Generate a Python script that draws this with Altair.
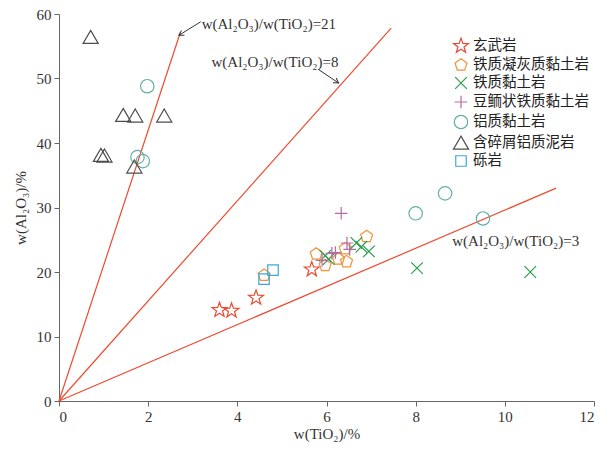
import math
import altair as alt
import pandas as pd

# ---------------- data ----------------
groups = ["玄武岩", "铁质凝灰质黏土岩", "铁质黏土岩", "豆鲕状铁质黏土岩",
          "铝质黏土岩", "含碎屑铝质泥岩", "砾岩"]
colors = ["#ea4a33", "#f2923c", "#2a9f4c", "#b56ba6", "#62aea6", "#4d4d4d", "#3ea7dc"]

basalt_x = [3.6, 3.87, 4.42, 5.67]
basalt_y = [14.1, 14.0, 16.0, 20.4]

tuff_x = [4.6, 5.77, 5.97, 6.27, 6.42, 6.9, 6.45]
tuff_y = [19.5, 22.8, 21.0, 22.0, 23.6, 25.5, 21.6]

fe_x = [5.97, 6.05, 6.67, 6.78, 6.95, 8.03, 10.57]
fe_y = [22.5, 22.0, 24.5, 23.9, 23.2, 20.6, 20.0]

ool_x = [6.33, 6.12, 6.2, 6.46, 6.52, 5.9]
ool_y = [29.1, 22.9, 23.0, 24.5, 23.5, 21.8]

al_x = [1.98, 1.76, 1.88, 8.0, 8.66, 9.51]
al_y = [48.8, 37.8, 37.2, 29.1, 32.2, 28.3]

clast_x = [0.71, 1.44, 1.71, 2.36, 0.94, 1.02, 1.69]
clast_y = [56.4, 44.3, 44.2, 44.2, 38.1, 38.0, 36.3]

cong_x = [4.6, 4.8]
cong_y = [18.9, 20.3]

# ratio lines (end points)
line_names = ["21", "8", "3"]
line_end_x = [2.72, 7.45, 11.15]
line_end_y = [57.1, 57.8, 33.0]

# annotations
ann_text = ["w(Al₂O₃)/w(TiO₂)=21", "w(Al₂O₃)/w(TiO₂)=8", "w(Al₂O₃)/w(TiO₂)=3"]
ann_x = [3.2, 3.42, 8.82]
ann_y = [58.5, 52.6, 24.8]

# arrows: start -> tip
arrow_x0 = [3.18, 5.82]
arrow_y0 = [58.8, 51.4]
arrow_x1 = [2.69, 6.27]
arrow_y1 = [56.7, 49.3]

# ---------------- build tables ----------------
all_x = [basalt_x, tuff_x, fe_x, ool_x, al_x, clast_x, cong_x]
all_y = [basalt_y, tuff_y, fe_y, ool_y, al_y, clast_y, cong_y]
rows = []
for g, xs, ys in zip(groups, all_x, all_y):
    for a, b in zip(xs, ys):
        rows.append({"g": g, "x": a, "y": b})
pts = pd.DataFrame(rows)

lrows = []
for n, ex, ey in zip(line_names, line_end_x, line_end_y):
    lrows.append({"n": n, "x": 0.0, "y": 0.0})
    lrows.append({"n": n, "x": ex, "y": ey})
lines_df = pd.DataFrame(lrows)

ann_df = pd.DataFrame({"t": ann_text, "x": ann_x, "y": ann_y})

arow = []
for i, (a0, b0, a1, b1) in enumerate(zip(arrow_x0, arrow_y0, arrow_x1, arrow_y1)):
    arow.append({"i": i, "x": a0, "y": b0})
    arow.append({"i": i, "x": a1, "y": b1})
arrow_df = pd.DataFrame(arow)

W, H = 535, 387
XS, YS = W / 12, H / 60
angles = []
for a0, b0, a1, b1 in zip(arrow_x0, arrow_y0, arrow_x1, arrow_y1):
    dx = (a1 - a0) * XS
    dy = -(b1 - b0) * YS
    angles.append((math.degrees(math.atan2(dy, dx)) + 360) % 360)
head_df = pd.DataFrame({"x": arrow_x1, "y": arrow_y1, "a": angles})

# ---------------- marker shapes ----------------
def poly(n, r, inner=None):
    pts_ = []
    k = n * 2 if inner else n
    for i in range(k):
        ang = -math.pi / 2 + i * math.pi * 2 / k
        rr = r if (not inner or i % 2 == 0) else inner
        pts_.append((rr * math.cos(ang), rr * math.sin(ang)))
    return "M" + "L".join(f"{p:.3f},{q:.3f}" for p, q in pts_) + "Z"

star = poly(5, 1.12, 0.45)
pent = poly(5, 0.9)
xmark = "M-0.83,-0.83L0.83,0.83M-0.83,0.83L0.83,-0.83"
plus = "M-0.9,0L0.9,0M0,-0.9L0,0.9"
circ = "M0.96,0A0.96,0.96,0,1,1,-0.96,0A0.96,0.96,0,1,1,0.96,0Z"
tri = "M0,-0.98L1.08,0.88L-1.08,0.88Z"
sq = "M-0.75,-0.75L0.75,-0.75L0.75,0.75L-0.75,0.75Z"
shapes = [star, pent, xmark, plus, circ, tri, sq]

SERIF = "Liberation Serif, DejaVu Serif, serif"
CJK = "Noto Sans CJK SC"

xsc = alt.Scale(domain=[0, 12], nice=False)
ysc = alt.Scale(domain=[0, 60], nice=False)

xax = alt.Axis(values=[0, 2, 4, 6, 8, 10, 12], title="w(TiO₂)/%", grid=False)
yax = alt.Axis(values=[0, 10, 20, 30, 40, 50, 60], title="w(Al₂O₃)/%", grid=False)

lines = alt.Chart(lines_df).mark_line(color="#ef4a2f", strokeWidth=1.2).encode(
    x=alt.X("x:Q", scale=xsc, axis=xax),
    y=alt.Y("y:Q", scale=ysc, axis=yax),
    detail="n:N",
)

points = alt.Chart(pts).mark_point(filled=False, size=196, strokeWidth=1.2, opacity=1).encode(
    x=alt.X("x:Q", scale=xsc),
    y=alt.Y("y:Q", scale=ysc),
    color=alt.Color("g:N", scale=alt.Scale(domain=groups, range=colors),
                    legend=alt.Legend(title=None, orient="none", legendX=394, legendY=24)),
    shape=alt.Shape("g:N", scale=alt.Scale(domain=groups, range=shapes)),
)

texts = alt.Chart(ann_df).mark_text(align="left", baseline="middle", font=SERIF,
                                    fontSize=15, color="#333333").encode(
    x=alt.X("x:Q", scale=xsc), y=alt.Y("y:Q", scale=ysc), text="t:N")

arrows = alt.Chart(arrow_df).mark_line(color="#333333", strokeWidth=1).encode(
    x=alt.X("x:Q", scale=xsc), y=alt.Y("y:Q", scale=ysc), detail="i:N")

heads = alt.Chart(head_df).mark_point(shape="M-1,-0.6L0,0L-1,0.6", filled=False,
                                      size=90, color="#333333", strokeWidth=1,
                                      opacity=1).encode(
    x=alt.X("x:Q", scale=xsc), y=alt.Y("y:Q", scale=ysc), angle=alt.Angle("a:Q", scale=None))

chart = alt.layer(lines, arrows, heads, texts, points).properties(
    width=W, height=H,
    autosize=alt.AutoSizeParams(type="none"),
    padding={"left": 51, "top": 6, "right": 7, "bottom": 41},
).configure_view(stroke=None).configure_axis(
    domainColor="#666666", tickColor="#666666", tickSize=5,
    labelFont=SERIF, labelFontSize=15, labelColor="#333333",
    titleFont=SERIF, titleFontSize=15, titleColor="#333333", titleFontWeight="normal",
).configure_axisY(titlePadding=8, labelPadding=3).configure_axisX(titlePadding=2, labelPadding=3
).configure_legend(labelFont=CJK, labelFontSize=14.5, labelColor="#222222",
                   symbolSize=196, symbolStrokeWidth=1.2, rowPadding=1,
                   labelOffset=4, padding=0)

chart.save("out.html", embed_options={"renderer": "svg", "actions": False})
